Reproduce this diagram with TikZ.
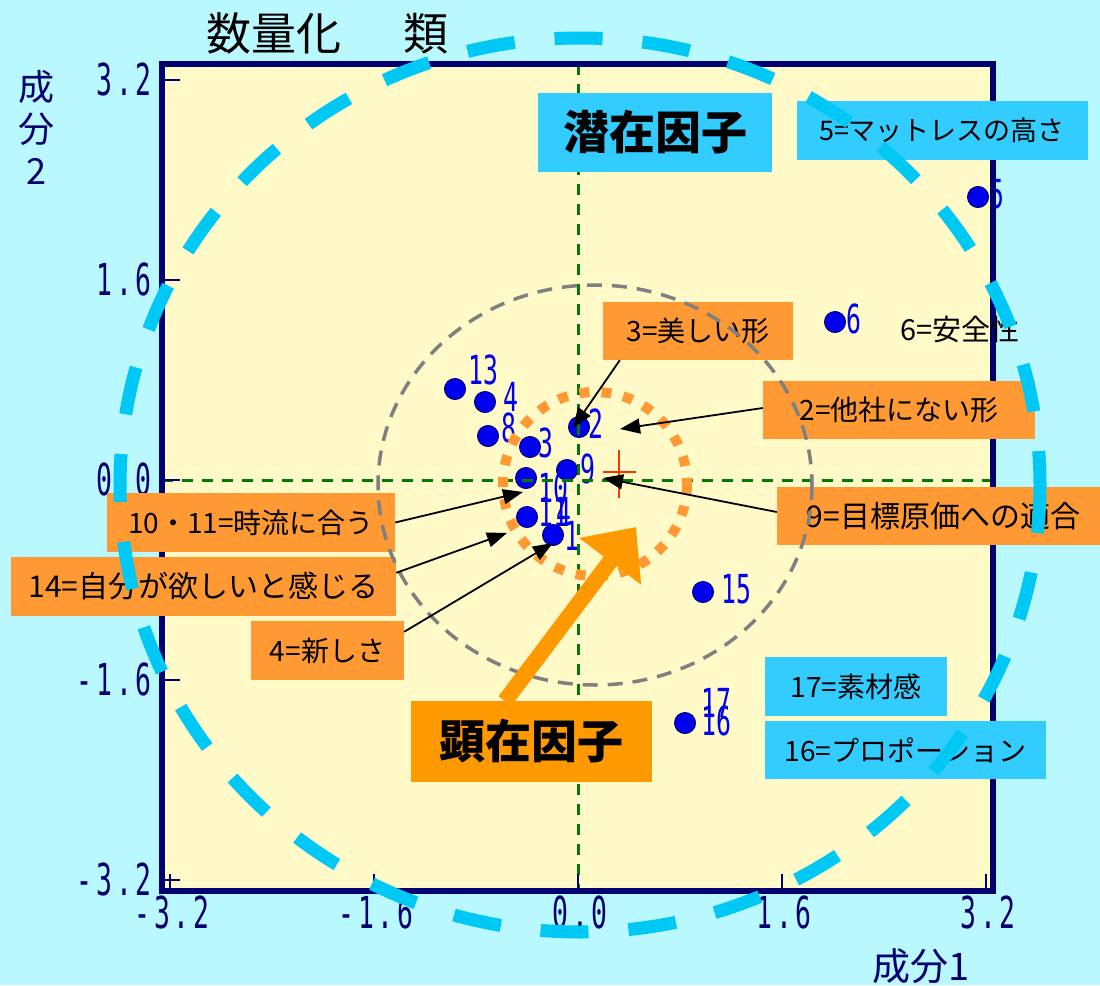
\documentclass[tikz,border=0pt]{standalone}
\usepackage{fontspec}
\newfontfamily\jp{Noto Sans CJK JP}
\newfontfamily\tickfont[FakeStretch=0.6,LetterSpace=9]{DejaVu Sans Mono}
\newfontfamily\ptfont[FakeStretch=0.62]{DejaVu Sans Mono}
\usepackage{tikz}
\usetikzlibrary{arrows.meta}
\definecolor{bgcyan}{RGB}{186,248,255}
\definecolor{plotyellow}{RGB}{255,250,200}
\definecolor{navy}{RGB}{0,0,112}
\definecolor{axisgreen}{RGB}{0,122,0}
\definecolor{dotblue}{RGB}{0,0,240}
\definecolor{callorange}{RGB}{255,153,51}
\definecolor{bigorange}{RGB}{255,153,0}
\definecolor{keycyan}{RGB}{51,204,255}
\definecolor{ringcyan}{RGB}{0,200,245}
\definecolor{crossred}{RGB}{255,51,0}

\begin{document}
\begin{tikzpicture}[x=1pt,y=-1pt,
  dot/.style={circle,fill=dotblue,draw=navy,line width=1pt,minimum size=21pt,inner sep=0pt},
  ptlab/.style={anchor=west,inner sep=0pt,text=dotblue,font=\ptfont\fontsize{40}{40}\selectfont},
  callout/.style={fill=callorange,inner sep=0pt,font=\jp\fontsize{28}{28}\selectfont},
  keybox/.style={fill=keycyan,inner sep=0pt,font=\jp\fontsize{28}{28}\selectfont},
  pointer/.style={line width=1.8pt,-{Triangle[length=20pt,width=15pt]}},
  axisline/.style={axisgreen,line width=3pt,dash pattern=on 11pt off 9pt}]
\useasboundingbox (0,0) rectangle (1100,985);
\fill[bgcyan] (0,0) rectangle (1100,985);
\fill[plotyellow] (162,64) rectangle (993,891);

\node[anchor=west,inner sep=0pt,font=\jp\fontsize{45}{45}\selectfont] (title) at (206,33) {数量化\hspace{62pt}類};
\node[align=center,inner sep=0pt,text=navy,font=\jp\fontsize{36}{42}\selectfont] (ytitle) at (36,127) {成\\分\\2};
\node[anchor=west,inner sep=0pt,text=navy,font=\jp\fontsize{38}{38}\selectfont] (xtitle) at (872,966) {成分1};

\node[dot] (p5) at (978,197) {};
\node[dot] (p6) at (835,322) {};
\node[dot] (p13) at (455,389) {};
\node[dot] (p1) at (485,402) {};
\node[dot] (p8) at (488,436) {};
\node[dot] (p3) at (530,447) {};
\node[dot] (p2) at (579,427) {};
\node[dot] (p9) at (567,470) {};
\node[dot] (p10) at (526,478) {};
\node[dot] (p14) at (527,517) {};
\node[dot] (p4) at (553,535) {};
\node[dot] (p15) at (703,592) {};
\node[dot] (p16) at (685,723) {};

\node[ptlab] (l5) at (989,194) {5};
\node[ptlab] (l6) at (846,319) {6};
\node[ptlab] (l13) at (468,370) {13};
\node[ptlab] (l1) at (503,397) {4};
\node[ptlab] (l8) at (501,428) {8};
\node[ptlab] (l3) at (538,443) {3};
\node[ptlab] (l2) at (588,424) {2};
\node[ptlab] (l9) at (580,469) {9};
\node[ptlab] (l10) at (538,488) {10};
\node[ptlab] (l11) at (538,512) {11};
\node[ptlab] (l14) at (556,512) {4};
\node[ptlab] (l4) at (564,536) {1};
\node[ptlab] (l15) at (721,589) {15};
\node[ptlab] (l17) at (701,703) {17};
\node[ptlab] (l16) at (701,721) {16};

\draw[axisline] (578,64)--(578,891);
\draw[axisline] (162,480)--(993,480);
\draw[navy,line width=6pt] (162,64) rectangle (993,891);
\foreach \v in {-3.2,-1.6,0.0,1.6,3.2}{
\draw[navy,line width=2pt] (165,480-125*\v)--(180,480-125*\v);
\draw[navy,line width=2pt] (578+127.5*\v,888)--(578+127.5*\v,874);
}
\foreach \v/\t in {3.2/3.2,1.6/1.6,0.0/0.0,-1.6/-1.6,-3.2/-3.2}{
\node[anchor=east,inner sep=0pt,text=navy,font=\tickfont\fontsize{44}{44}\selectfont] (ty\t) at (152,479-125*\v) {\t};
\node[anchor=north,inner sep=0pt,text=navy,font=\tickfont\fontsize{44}{44}\selectfont] (tx\t) at (580+127.5*\v,896) {\t};
}

\node[keybox,minimum width=234pt,minimum height=79pt,font=\jp\bfseries\fontsize{46}{46}\selectfont] (senzai) at (655,132) {潜在因子};
\node[keybox,minimum width=291pt,minimum height=59pt,font=\jp\fontsize{27}{27}\selectfont] (c5) at (942,130) {5=マットレスの高さ};
\node[callout,minimum width=190pt,minimum height=58pt] (c3) at (698,331) {3=美しい形};
\node[inner sep=0pt,font=\jp\fontsize{29}{29}\selectfont] (c6) at (960,329) {6=安全性};
\node[callout,minimum width=272pt,minimum height=58pt] (c2) at (899,410) {2=他社にない形};
\node[callout,minimum width=333pt,minimum height=58pt,font=\jp\fontsize{30}{30}\selectfont] (c9) at (943.5,516) {9=目標原価への適合};
\node[callout,minimum width=288pt,minimum height=59pt] (c10) at (251,522.5) {10・11=時流に合う};
\node[callout,minimum width=385pt,minimum height=59pt,font=\jp\fontsize{30}{30}\selectfont] (c14) at (203.5,586.5) {14=自分が欲しいと感じる};
\node[callout,minimum width=153pt,minimum height=59pt] (c4) at (327.5,650.5) {4=新しさ};
\node[keybox,minimum width=182pt,minimum height=59pt] (c17) at (856,686.5) {17=素材感};
\node[keybox,minimum width=281pt,minimum height=58pt] (c16) at (905.5,750) {16=プロポーション};
\node[fill=bigorange,inner sep=0pt,minimum width=241pt,minimum height=81pt,font=\jp\bfseries\fontsize{46}{46}\selectfont] (kenzai) at (531.5,741.5) {顕在因子};

\draw[gray,line width=3.5pt,dash pattern=on 15pt off 10pt] (595,485) ellipse [x radius=217,y radius=200];
\draw[callorange,line width=10pt,dash pattern=on 10pt off 12pt] (595,484) circle [radius=92];

\draw[crossred,line width=2pt] (603,472)--(636,472);
\draw[crossred,line width=2pt] (619,450)--(619,498);

\coordinate (t3) at (573,428);
\coordinate (t2) at (620,429);
\coordinate (t9) at (603,478);
\coordinate (t10) at (523,492);
\coordinate (t14) at (507,533);
\coordinate (t4) at (553,543);
\draw[pointer] ([xshift=17pt]c3.south west)--(t3);
\draw[pointer] ([yshift=2pt]c2.west)--(t2);
\draw[pointer] ([yshift=4pt]c9.west)--(t9);
\draw[pointer] (c10.east)--(t10);
\draw[pointer] ([yshift=-16pt]c14.north east)--(t14);
\draw[pointer] ([yshift=-11pt]c4.north east)--(t4);

\coordinate (bigtail) at (505,701);
\coordinate (bigtip) at (636,527);
\draw[bigorange,line width=16pt,-{Triangle[length=43pt,width=75pt]}] (bigtail)--(bigtip);

\draw[ringcyan,line width=13pt,dash pattern=on 48pt off 40pt] (580,485) ellipse [x radius=460,y radius=447];
\end{tikzpicture}
\end{document}
